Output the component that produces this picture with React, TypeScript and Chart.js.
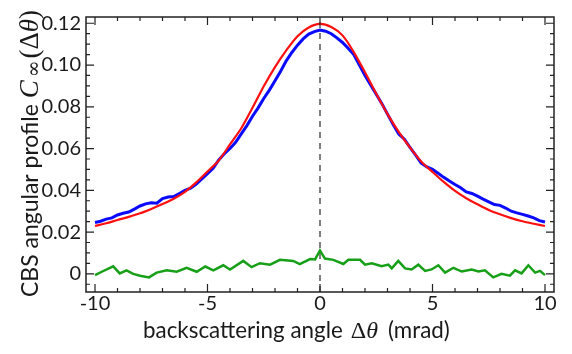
import React, { useEffect, useRef } from "react";
import { Chart, registerables } from "chart.js";

Chart.register(...registerables);

const xTickVals = [-10, -5, 0, 5, 10];
const yTickVals = [0, 0.02, 0.04, 0.06, 0.08, 0.1, 0.12];

const redX = [-10, -9.5, -9, -8.5, -8, -7.5, -7, -6.5, -6, -5.5, -5, -4.5, -4, -3.5, -3, -2.5, -2, -1.5, -1, -0.5, 0,
  0.5, 1, 1.5, 2, 2.5, 3, 3.5, 4, 4.5, 5, 5.5, 6, 6.5, 7, 7.5, 8, 8.5, 9, 9.5, 10];
const redY = [0.0229, 0.0242, 0.0258, 0.0273, 0.029, 0.0311, 0.0334, 0.036, 0.0393, 0.0438, 0.049, 0.0543, 0.062, 0.0697, 0.0795, 0.0898, 0.099, 0.107, 0.1138, 0.118, 0.1197,
  0.1182, 0.1142, 0.1062, 0.0965, 0.0862, 0.0765, 0.068, 0.0605, 0.0538, 0.0488, 0.044, 0.0397, 0.0362, 0.0333, 0.0306, 0.0285, 0.0267, 0.0252, 0.024, 0.0229];

const blueX = [-10, -9.75, -9.5, -9.25, -9, -8.75, -8.5, -8.25, -8, -7.75, -7.5, -7.25, -7, -6.75, -6.5, -6.25, -6, -5.75, -5.5, -5.25, -5,
  -4.75, -4.5, -4.25, -4, -3.75, -3.5, -3.25, -3, -2.75, -2.5, -2.25, -2, -1.75, -1.5, -1.25, -1, -0.75, -0.5, -0.25, 0,
  0.25, 0.5, 0.75, 1, 1.25, 1.5, 1.75, 2, 2.25, 2.5, 2.75, 3, 3.25, 3.5, 3.75, 4, 4.25, 4.5, 4.75, 5,
  5.25, 5.5, 5.75, 6, 6.25, 6.5, 6.75, 7, 7.25, 7.5, 7.75, 8, 8.25, 8.5, 8.75, 9, 9.25, 9.5, 9.75, 10];
const blueY = [0.0246, 0.0252, 0.0262, 0.0268, 0.0282, 0.029, 0.0296, 0.031, 0.0325, 0.0335, 0.034, 0.0338, 0.036, 0.0368, 0.037, 0.0385, 0.04, 0.041, 0.043, 0.0455, 0.048,
  0.0505, 0.0545, 0.0575, 0.06, 0.063, 0.067, 0.071, 0.0755, 0.0795, 0.084, 0.088, 0.0925, 0.097, 0.102, 0.106, 0.1095, 0.1125, 0.1148, 0.116, 0.1168,
  0.1162, 0.115, 0.113, 0.1108, 0.108, 0.105, 0.1, 0.095, 0.0905, 0.086, 0.0815, 0.0765, 0.0715, 0.067, 0.0645, 0.0605, 0.0568, 0.053, 0.0512, 0.05,
  0.0482, 0.0462, 0.0445, 0.0428, 0.0412, 0.0392, 0.0385, 0.0372, 0.0358, 0.0345, 0.0332, 0.0328, 0.0315, 0.03, 0.0292, 0.0285, 0.0277, 0.0268, 0.0255, 0.0248];

const greenX = [-10, -9.7, -9.19, -8.9, -8.6, -8.3, -8.0, -7.6, -7.26, -6.81, -6.37, -5.93, -5.48, -5.1, -4.74, -4.3, -4.0, -3.41, -3.04, -2.67, -2.22, -1.78, -1.19, -0.9, -0.44, -0.22, 0,
  0.22, 0.59, 1.04, 1.26, 1.78, 2.0, 2.3, 2.74, 3.04, 3.19, 3.48, 3.78, 4.07, 4.37, 4.67, 4.96, 5.26, 5.56, 5.93, 6.3, 6.74, 7.04, 7.33, 7.7, 8.07, 8.44, 8.67, 8.96, 9.26, 9.56, 9.78, 10];
const greenY = [-0.0006, 0.001, 0.0036, 0.0002, 0.0017, 0.0, -0.0009, -0.0017, 0.0006, 0.0017, 0.001, 0.0029, 0.001, 0.0035, 0.0017, 0.0041, 0.0021, 0.0062, 0.0032, 0.0051, 0.0044, 0.0067, 0.0062, 0.0047, 0.0071, 0.0069, 0.0112,
  0.0073, 0.0067, 0.0047, 0.0067, 0.0067, 0.0044, 0.0051, 0.0036, 0.0044, 0.0026, 0.0062, 0.0026, 0.0021, 0.0044, 0.0014, 0.0021, 0.0041, 0.0006, 0.0029, 0.0011, 0.0021, 0.0011, 0.0017, -0.0017, 0.0, -0.0009, 0.0017, 0.0002, 0.0041, 0.0006, 0.0014, -0.0006];

const X_MIN = -10.4;
const X_MAX = 10.4;
const Y_MIN = -0.0087;
const Y_MAX = 0.123;
const dashX = [0, 0];
const dashY = [Y_MIN, Y_MAX];

const pts = (xs: number[], ys: number[]) => xs.map((x, i) => ({ x, y: ys[i] }));

function fitSize(ctx: CanvasRenderingContext2D, text: string, family: string, target: number) {
  ctx.font = `20px ${family}`;
  const w = ctx.measureText(text).width;
  return (20 * target) / w;
}

type Run = { t: string; font: string; dy?: number; gap?: number };

function drawSeq(ctx: CanvasRenderingContext2D, runs: Run[], x0: number) {
  let x = x0;
  runs.forEach((r) => {
    x += r.gap || 0;
    ctx.font = r.font;
    ctx.fillText(r.t, x, r.dy || 0);
    x += ctx.measureText(r.t).width;
  });
}

const framePlugin = {
  id: "framePlugin",
  afterDraw(chart: any) {
    const { ctx, chartArea } = chart;
    const { left, right, top, bottom } = chartArea;
    const xs = chart.scales.x;
    const ys = chart.scales.y;
    ctx.save();
    ctx.strokeStyle = "#222";
    ctx.lineWidth = 1.5;
    ctx.strokeRect(left, top, right - left, bottom - top);
    ctx.lineWidth = 1.2;
    ctx.beginPath();
    for (let v = -10; v <= 10; v += 1) {
      const px = xs.getPixelForValue(v);
      const len = v % 5 === 0 ? 8 : 4;
      ctx.moveTo(px, bottom);
      ctx.lineTo(px, bottom - len);
      ctx.moveTo(px, top);
      ctx.lineTo(px, top + len);
    }
    for (let k = -1; k <= 24; k++) {
      const v = k * 0.005;
      const py = ys.getPixelForValue(v);
      if (py < top || py > bottom) continue;
      const len = k % 4 === 0 ? 8 : 4;
      ctx.moveTo(left, py);
      ctx.lineTo(left + len, py);
      ctx.moveTo(right, py);
      ctx.lineTo(right - len, py);
    }
    ctx.stroke();

    ctx.fillStyle = "#1a1a1a";
    ctx.textAlign = "left";
    ctx.textBaseline = "alphabetic";

    // x-axis title
    const sx = fitSize(ctx, "backscattering angle", "Lato", 200);
    ctx.save();
    ctx.translate(0, 338);
    drawSeq(ctx, [
      { t: "backscattering angle", font: `${sx}px Lato` },
      { t: "Δ", font: "24px 'Liberation Serif'", gap: 8 },
      { t: "θ", font: "italic 24px 'Liberation Serif'", gap: 0 },
      { t: "(mrad)", font: `${sx}px Lato`, gap: 10 },
    ], 143);
    ctx.restore();

    // y-axis title (rotated)
    ctx.translate(38, 297);
    ctx.rotate(-Math.PI / 2);
    const sy = fitSize(ctx, "CBS angular profile", "Lato", 193);
    drawSeq(ctx, [
      { t: "CBS angular profile", font: `${sy}px Lato` },
      { t: "C", font: "italic 27px 'Liberation Serif'", gap: 6 },
      { t: "∞", font: "20px 'DejaVu Serif'", dy: 2, gap: 3 },
      { t: "(", font: "27px 'Liberation Serif'", gap: 2 },
      { t: "Δ", font: "27px 'Liberation Serif'" },
      { t: "θ", font: "italic 27px 'Liberation Serif'" },
      { t: ")", font: "27px 'Liberation Serif'" },
    ], 0);
    ctx.restore();
  },
};

export default function App() {
  const ref = useRef<HTMLCanvasElement | null>(null);
  useEffect(() => {
    document.body.style.margin = "0";
    const chart = new Chart(ref.current!, {
      type: "scatter",
      data: {
        datasets: [
          { data: pts(redX, redY), borderColor: "#ff1010", borderWidth: 2.2, showLine: true, pointRadius: 0, tension: 0.3 },
          { data: pts(blueX, blueY), borderColor: "#0a0aff", borderWidth: 3, showLine: true, pointRadius: 0 },
          { data: pts(greenX, greenY), borderColor: "#17a017", borderWidth: 2.5, showLine: true, pointRadius: 0 },
          { data: pts(dashX, dashY), borderColor: "#555", borderWidth: 1.5, borderDash: [6, 5], showLine: true, pointRadius: 0 },
        ],
      },
      options: {
        animation: false,
        responsive: false,
        devicePixelRatio: 1,
        layout: { padding: { top: 3, right: 18, left: 0, bottom: 0 } },
        plugins: { legend: { display: false }, tooltip: { enabled: false } },
        scales: {
          x: {
            type: "linear",
            min: X_MIN,
            max: X_MAX,
            grid: { display: false, drawTicks: false },
            border: { display: false },
            ticks: { font: { family: "Lato", size: 20 }, color: "#1a1a1a", padding: 0, maxRotation: 0, autoSkip: false, callback: (v: any) => String(v) },
            afterBuildTicks: (s: any) => { s.ticks = xTickVals.map((v) => ({ value: v })); },
            afterFit: (s: any) => { s.height = 62; },
          },
          y: {
            type: "linear",
            min: Y_MIN,
            max: Y_MAX,
            grid: { display: false, drawTicks: false },
            border: { display: false },
            ticks: { font: { family: "Lato", size: 20 }, color: "#1a1a1a", padding: 5, autoSkip: false, callback: (v: any) => (v === 0 ? "0" : Number(v).toFixed(2)) },
            afterBuildTicks: (s: any) => { s.ticks = yTickVals.map((v) => ({ value: v })); },
            afterFit: (s: any) => { s.width = 86; },
          },
        },
      },
      plugins: [framePlugin],
    } as any);
    return () => chart.destroy();
  }, []);
  return (
    <div style={{ position: "absolute", left: 0, top: 0, width: 572, height: 354 }}>
      <canvas ref={ref} width={572} height={354} />
    </div>
  );
}
